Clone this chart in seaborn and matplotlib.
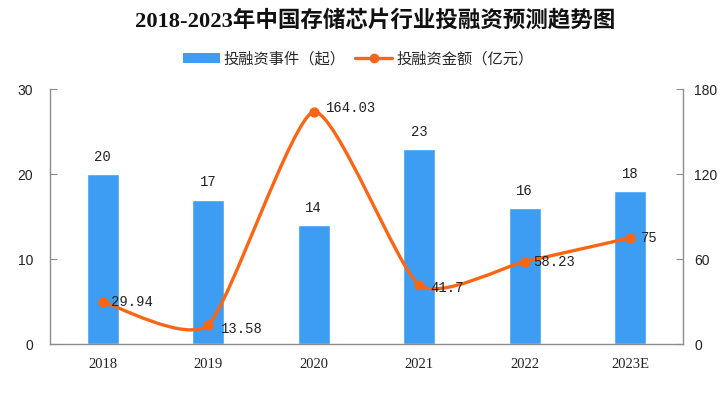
import numpy as np
import pandas as pd
import matplotlib
matplotlib.use("Agg")
import matplotlib.pyplot as plt
import seaborn as sns
from matplotlib.path import Path
from matplotlib.patches import PathPatch, Patch
from matplotlib.lines import Line2D

# data
years = ["2018", "2019", "2020", "2021", "2022", "2023E"]
events = [20, 17, 14, 23, 16, 18]
amounts = [29.94, 13.58, 164.03, 41.7, 58.23, 75]
amount_labels = ["29.94", "13.58", "164.03", "41.7", "58.23", "75"]

bar_color = "#3d9df3"
line_color = "#fc6514"
axis_color = "#8c8c8c"

sns.set_style("white")
plt.rcParams["font.family"] = ["Liberation Sans", "Noto Sans CJK SC", "DejaVu Sans"]

fig = plt.figure(figsize=(7.25, 3.95), dpi=100)
ax = fig.add_axes([0.069, 0.129, 0.873, 0.645])

df = pd.DataFrame({"year": years, "events": events, "amount": amounts})
sns.barplot(data=df, x="year", y="events", order=years, color=bar_color,
            saturation=1, width=0.3, ax=ax)
ax.set_xlim(-0.5, 5.5)
ax.set_ylim(0, 30)
ax.set_yticks([0, 10, 20, 30])
ax.set_xlabel("")
ax.set_ylabel("")

# bar value labels
for i, v in enumerate(events):
    ax.text(i, v + 1.2, str(v), ha="center", va="bottom", fontsize=10,
            family=["Liberation Mono", "DejaVu Sans Mono"], color="#222222")

# right axis: investment amount, smoothed line drawn as a bezier path
ax2 = ax.twinx()
ax2.set_ylim(0, 180)
ax2.set_yticks([0, 60, 120, 180])
x = np.arange(len(amounts), dtype=float)
y = np.array(amounts, dtype=float)
pts = np.column_stack([x, y])
tension = 0.1
verts = [pts[0]]
codes = [Path.MOVETO]
n = len(pts)
for i in range(n - 1):
    p_prev = pts[max(i - 1, 0)]
    p0 = pts[i]
    p1 = pts[i + 1]
    p_next = pts[min(i + 2, n - 1)]
    c1 = p0 + (p1 - p_prev) * tension
    c2 = p1 - (p_next - p0) * tension
    verts += [c1, c2, p1]
    codes += [Path.CURVE4] * 3
curve = PathPatch(Path(verts, codes), facecolor="none", edgecolor=line_color,
                  lw=2.4, capstyle="round", zorder=3)
ax2.add_patch(curve)
sns.scatterplot(x=x, y=y, color=line_color, s=55, edgecolor=line_color,
                linewidth=0, zorder=4, ax=ax2, legend=False)

offsets = [(0.08, 0), (0.12, -3), (0.12, 3), (0.1, -2), (0.08, 0), (0.1, 0)]
for i, lab in enumerate(amount_labels):
    dx, dy = offsets[i]
    ax2.text(i + dx, amounts[i] + dy, lab, ha="left", va="center", fontsize=10,
             family=["Liberation Mono", "DejaVu Sans Mono"], color="#222222")

# axis styling
for a in (ax, ax2):
    a.spines["top"].set_visible(False)
    for s in ("left", "right", "bottom"):
        a.spines[s].set_color(axis_color)
        a.spines[s].set_linewidth(1.0)
ax.spines["right"].set_visible(False)
ax2.spines["left"].set_visible(False)
ax2.spines["bottom"].set_visible(False)

ax.tick_params(axis="y", direction="in", length=5, color=axis_color,
               labelsize=10, labelcolor="#222222", pad=12)
ax2.tick_params(axis="y", direction="in", length=5, color=axis_color,
                labelsize=10, labelcolor="#222222", pad=8)
ax.tick_params(axis="x", length=0, pad=10, labelsize=10.5, labelcolor="#222222")
for lab in ax.get_xticklabels():
    lab.set_family(["Liberation Serif", "DejaVu Serif"])
ax.set_xticks(np.arange(0.5, 5.5, 1), minor=True)
ax.tick_params(axis="x", which="minor", direction="out", length=5, color=axis_color)
ax.grid(False)
ax2.grid(False)

fig.text(0.517, 0.947, "2018-2023年中国存储芯片行业投融资预测趋势图", ha="center", va="center",
         fontsize=16.2, fontweight="bold",
         family=["Liberation Serif", "Noto Sans CJK SC"], color="#111111")

handles = [Patch(facecolor=bar_color, edgecolor="none"),
           Line2D([0], [0], color=line_color, lw=2.4, marker="o", markersize=6)]
fig.legend(handles, ["投融资事件（起）", "投融资金额（亿元）"], loc="center",
           bbox_to_anchor=(0.494, 0.851), ncol=2, frameon=False,
           handlelength=2.4, handleheight=0.6, columnspacing=0.65,
           handletextpad=0.25, prop={"family": ["Noto Sans CJK SC", "DejaVu Sans"], "size": 11})

fig.savefig("out.png", dpi=100)
